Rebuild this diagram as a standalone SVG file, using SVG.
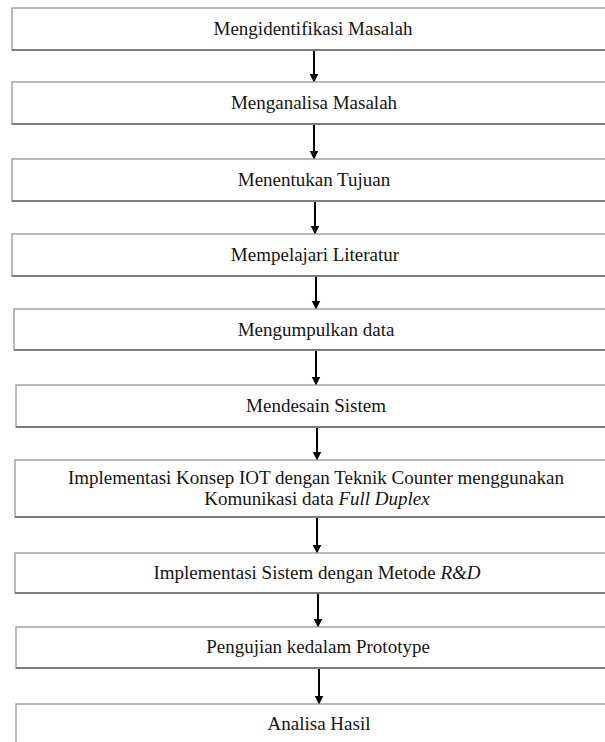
<svg xmlns="http://www.w3.org/2000/svg" width="605" height="742" viewBox="0 0 605 742">
<style>
.box{fill:#ffffff;stroke:#a3a3a3;stroke-width:1.5}
.sh{stroke:#7c7c7c;stroke-width:2.2}
.t{font-family:"Liberation Serif","Times New Roman",serif;font-size:19px;fill:#151515;text-anchor:middle}
.c{stroke:#000;stroke-width:2;fill:none}
</style>
<defs>
<marker id="ah" markerWidth="9" markerHeight="10" refX="8.5" refY="4.5" orient="auto" markerUnits="userSpaceOnUse">
<path d="M0,0 L9,4.5 L0,9 Z" fill="#000"/>
</marker>
</defs>
<rect width="605" height="742" fill="#ffffff"/>
<g id="connectors">
<line class="c" x1="314" y1="51" x2="314" y2="82" marker-end="url(#ah)"/>
<line class="c" x1="314" y1="125" x2="314" y2="159" marker-end="url(#ah)"/>
<line class="c" x1="315" y1="202" x2="315" y2="234" marker-end="url(#ah)"/>
<line class="c" x1="316" y1="277" x2="316" y2="309" marker-end="url(#ah)"/>
<line class="c" x1="316" y1="351" x2="316" y2="385" marker-end="url(#ah)"/>
<line class="c" x1="317" y1="428" x2="317" y2="460" marker-end="url(#ah)"/>
<line class="c" x1="317" y1="518" x2="317" y2="553" marker-end="url(#ah)"/>
<line class="c" x1="318" y1="594" x2="318" y2="627" marker-end="url(#ah)"/>
<line class="c" x1="319" y1="669" x2="319" y2="704" marker-end="url(#ah)"/>
</g>
<g id="n1"><rect class="box" x="12" y="8" width="640" height="42"/><line class="sh" x1="12" y1="50" x2="652" y2="50"/><text class="t" x="313" y="35">Mengidentifikasi Masalah</text></g>
<g id="n2"><rect class="box" x="12" y="82" width="640" height="42"/><line class="sh" x1="12" y1="124" x2="652" y2="124"/><text class="t" x="314" y="109">Menganalisa Masalah</text></g>
<g id="n3"><rect class="box" x="12" y="159" width="640" height="42"/><line class="sh" x1="12" y1="201" x2="652" y2="201"/><text class="t" x="314" y="186">Menentukan Tujuan</text></g>
<g id="n4"><rect class="box" x="12" y="234" width="640" height="42"/><line class="sh" x1="12" y1="276" x2="652" y2="276"/><text class="t" x="315" y="261">Mempelajari Literatur</text></g>
<g id="n5"><rect class="box" x="14" y="309" width="640" height="41"/><line class="sh" x1="14" y1="350" x2="654" y2="350"/><text class="t" x="316" y="336">Mengumpulkan data</text></g>
<g id="n6"><rect class="box" x="16" y="385" width="640" height="42"/><line class="sh" x1="16" y1="427" x2="656" y2="427"/><text class="t" x="316" y="412">Mendesain Sistem</text></g>
<g id="n7"><rect class="box" x="15" y="460" width="640" height="57"/><line class="sh" x1="15" y1="517" x2="655" y2="517"/><text class="t" x="316" y="484">Implementasi Konsep IOT dengan Teknik Counter menggunakan</text><text class="t" x="317" y="505">Komunikasi data <tspan font-style="italic">Full Duplex</tspan></text></g>
<g id="n8"><rect class="box" x="15" y="553" width="640" height="40"/><line class="sh" x1="15" y1="593" x2="655" y2="593"/><text class="t" x="317" y="579">Implementasi Sistem dengan Metode <tspan font-style="italic">R&amp;D</tspan></text></g>
<g id="n9"><rect class="box" x="16" y="627" width="640" height="41"/><line class="sh" x1="16" y1="668" x2="656" y2="668"/><text class="t" x="318" y="653">Pengujian kedalam Prototype</text></g>
<g id="n10"><rect class="box" x="16" y="704" width="640" height="60"/><text class="t" x="319" y="730">Analisa Hasil</text></g>
</svg>
